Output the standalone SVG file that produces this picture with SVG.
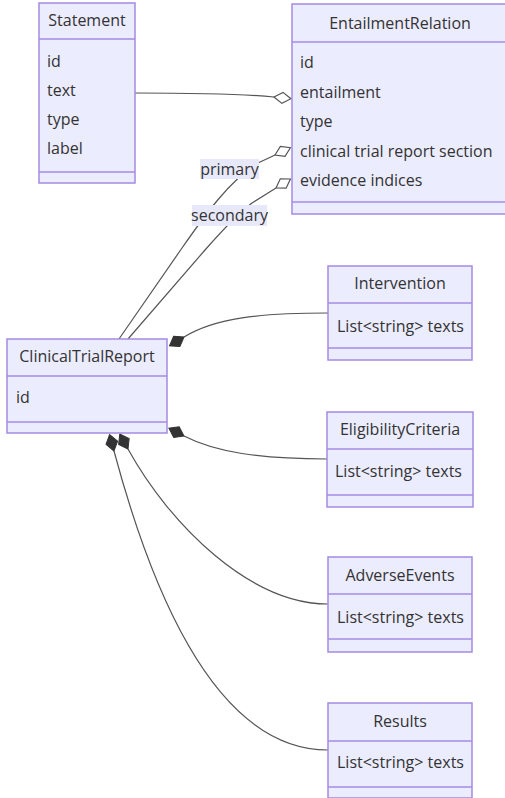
<svg xmlns="http://www.w3.org/2000/svg" width="505" height="798" viewBox="0 0 505 798">
<style>
.box{fill:#ECECFF;stroke:#a48be2;stroke-width:1.5}
.div{stroke:#a48be2;stroke-width:1.5}
text{font-family:"Open Sans","Noto Sans","DejaVu Sans",sans-serif;font-size:16px;fill:#333}
.t{text-anchor:middle}
.edge{fill:none;stroke:#555;stroke-width:1.2}
.lbg{fill:#e8e8fb}
.lbl{text-anchor:middle;fill:#333}
</style>
<defs>
<marker id="agg" markerUnits="userSpaceOnUse" markerWidth="20" markerHeight="16" refX="1" refY="8" orient="auto">
<path d="M1,8 L9.5,2.5 L18,8 L9.5,13.5 Z" fill="#fff" stroke="#555" stroke-width="1.2"/>
</marker>
<marker id="comp" markerUnits="userSpaceOnUse" markerWidth="20" markerHeight="16" refX="1" refY="8" orient="auto">
<path d="M1,8 L9.5,2 L18,8 L9.5,14 Z" fill="#333" stroke="#333" stroke-width="1"/>
</marker>
</defs>

<g id="connectors">
<path class="edge" d="M135,93 C200,93 245,94 274,97" marker-end="url(#agg)"/>
<path class="edge" d="M119,339 L182,248 C205,215 230,180 258,163 L275,155" marker-end="url(#agg)"/>
<path class="edge" d="M128,339 L205,250 C220,233 240,212 252,203 L276,188" marker-end="url(#agg)"/>
<path class="edge" d="M328,313 C260,313 215,318 184,337" marker-end="url(#comp)"/>
<path class="edge" d="M327,459 C260,459 215,452 184,436" marker-end="url(#comp)"/>
<path class="edge" d="M328,604 C250,604 170,525 128,449" marker-end="url(#comp)"/>
<path class="edge" d="M328,750 C230,750 162,630 114,451" marker-end="url(#comp)"/>
<g id="label-primary">
<rect class="lbg" x="200" y="159" width="59" height="20"/>
<text class="lbl" x="229.5" y="174.5">primary</text>
</g>
<g id="label-secondary">
<rect class="lbg" x="192" y="205" width="75" height="21"/>
<text class="lbl" x="229.5" y="221">secondary</text>
</g>
</g>

<g id="Statement">
<rect class="box" x="39" y="3" width="96" height="180"/>
<line class="div" x1="39" y1="39" x2="135" y2="39"/>
<line class="div" x1="39" y1="172" x2="135" y2="172"/>
<text class="t" x="87" y="26">Statement</text>
<text x="47" y="67">id</text>
<text x="47" y="96">text</text>
<text x="47" y="125">type</text>
<text x="47" y="154">label</text>
</g>

<g id="EntailmentRelation">
<rect class="box" x="292" y="4" width="215" height="210"/>
<line class="div" x1="292" y1="42" x2="507" y2="42"/>
<line class="div" x1="292" y1="202" x2="507" y2="202"/>
<text class="t" x="400" y="29">EntailmentRelation</text>
<text x="300" y="68">id</text>
<text x="300" y="97.5">entailment</text>
<text x="300" y="127">type</text>
<text x="300" y="156.5">clinical trial report section</text>
<text x="300" y="186">evidence indices</text>
</g>

<g id="ClinicalTrialReport">
<rect class="box" x="7" y="339" width="160" height="94"/>
<line class="div" x1="7" y1="376" x2="167" y2="376"/>
<line class="div" x1="7" y1="422" x2="167" y2="422"/>
<text class="t" x="87" y="362">ClinicalTrialReport</text>
<text x="16" y="403">id</text>
</g>

<g id="Intervention">
<rect class="box" x="328" y="266" width="144" height="94"/>
<line class="div" x1="328" y1="303" x2="472" y2="303"/>
<line class="div" x1="328" y1="348" x2="472" y2="348"/>
<text class="t" x="400" y="289">Intervention</text>
<text x="337" y="332">List&lt;string&gt; texts</text>
</g>

<g id="EligibilityCriteria">
<rect class="box" x="327" y="412" width="146" height="95"/>
<line class="div" x1="327" y1="449" x2="473" y2="449"/>
<line class="div" x1="327" y1="495" x2="473" y2="495"/>
<text class="t" x="400" y="435">EligibilityCriteria</text>
<text x="335" y="477">List&lt;string&gt; texts</text>
</g>

<g id="AdverseEvents">
<rect class="box" x="328" y="557" width="144" height="95"/>
<line class="div" x1="328" y1="594" x2="472" y2="594"/>
<line class="div" x1="328" y1="639" x2="472" y2="639"/>
<text class="t" x="400" y="581">AdverseEvents</text>
<text x="337" y="623">List&lt;string&gt; texts</text>
</g>

<g id="Results">
<rect class="box" x="328" y="703" width="144" height="95"/>
<line class="div" x1="328" y1="741" x2="472" y2="741"/>
<line class="div" x1="328" y1="787" x2="472" y2="787"/>
<text class="t" x="400" y="727">Results</text>
<text x="337" y="768">List&lt;string&gt; texts</text>
</g>
</svg>
